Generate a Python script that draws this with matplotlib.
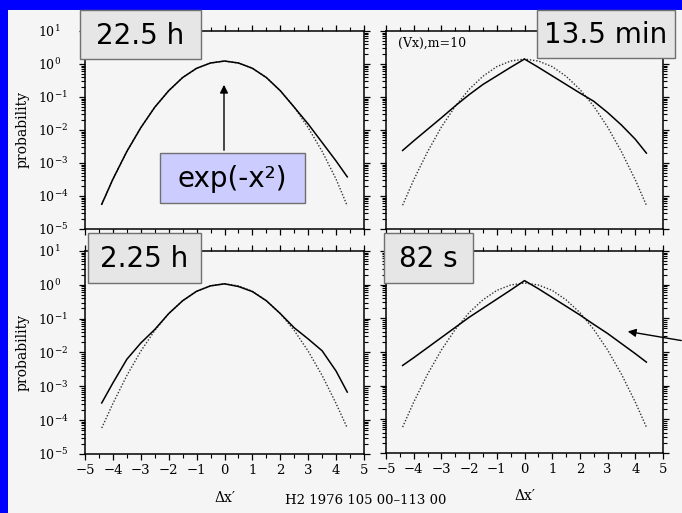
import numpy as np
import matplotlib
matplotlib.use('Agg')
import matplotlib.pyplot as plt
from matplotlib.patches import Rectangle, FancyArrowPatch

plt.rcParams['mathtext.fontset'] = 'dejavuserif'

# values, probability as log10
x_pts = [-4.4, -4, -3.5, -3, -2.5, -2, -1.5, -1, -0.5, 0, 0.5, 1, 1.5, 2, 2.5, 3, 3.5, 4, 4.4]

tl_gauss = [-4.25, -3.49, -2.65, -1.93, -1.31, -0.81, -0.41, -0.13, 0.03, 0.09,
            0.03, -0.13, -0.41, -0.81, -1.31, -1.93, -2.65, -3.49, -4.3]
tl_data = [-4.25, -3.49, -2.65, -1.93, -1.31, -0.81, -0.41, -0.13, 0.03, 0.09,
           0.03, -0.13, -0.41, -0.81, -1.31, -1.82, -2.38, -2.94, -3.42]

tr_gauss = [-4.28, -3.51, -2.66, -1.91, -1.28, -0.77, -0.37, -0.08, 0.09, 0.15,
            0.09, -0.08, -0.37, -0.77, -1.28, -1.91, -2.66, -3.51, -4.28]
tr_data = [-2.62, -2.33, -1.98, -1.63, -1.27, -0.93, -0.62, -0.36, -0.1, 0.15,
           -0.1, -0.36, -0.62, -0.88, -1.13, -1.47, -1.85, -2.28, -2.7]

bl_gauss = [-4.23, -3.51, -2.68, -1.96, -1.35, -0.85, -0.47, -0.19, -0.03, 0.03,
            -0.03, -0.19, -0.47, -0.85, -1.35, -1.96, -2.68, -3.51, -4.23]
bl_data = [-3.49, -2.9, -2.2, -1.72, -1.32, -0.85, -0.47, -0.19, -0.03, 0.03,
           -0.05, -0.2, -0.47, -0.85, -1.27, -1.6, -1.95, -2.55, -3.17]

br_gauss = [-4.23, -3.49, -2.66, -1.94, -1.33, -0.83, -0.45, -0.17, -0.01, 0.05,
            -0.01, -0.17, -0.45, -0.83, -1.33, -1.94, -2.66, -3.49, -4.23]
br_data = [-2.4, -2.17, -1.87, -1.57, -1.27, -0.97, -0.7, -0.43, -0.16, 0.12,
           -0.12, -0.38, -0.64, -0.9, -1.18, -1.45, -1.75, -2.05, -2.3]

xtick_vals = [-5, -4, -3, -2, -1, 0, 1, 2, 3, 4, 5]
xtick_labels = ['\u22125', '\u22124', '\u22123', '\u22122', '\u22121', '0', '1', '2', '3', '4', '5']
ytick_vals = [1e-5, 1e-4, 1e-3, 1e-2, 1e-1, 1e0, 1e1]
ytick_labels = ['$10^{-5}$', '$10^{-4}$', '$10^{-3}$', '$10^{-2}$', '$10^{-1}$', '$10^{0}$', '$10^{1}$']
box_labels = ['22.5 h', '13.5 min', '2.25 h', '82 s']

xminor = [v + 0.5 for v in xtick_vals[:-1]]
yminor = [m * d for d in ytick_vals[:-1] for m in range(2, 10)]

W, H = 682, 513
PANEL = '#f5f5f5'
SERIF = 'DejaVu Serif'

fig = plt.figure(figsize=(W / 100, H / 100), dpi=100)
fig.patch.set_facecolor('#0000ff')
fig.add_artist(Rectangle((8 / W, 0), 1 - 8 / W, 1 - 10 / H, transform=fig.transFigure,
                         facecolor=PANEL, edgecolor='none', zorder=-1))


def px_axes(x0, y0, x1, y1):
    return fig.add_axes([x0 / W, 1 - y1 / H, (x1 - x0) / W, (y1 - y0) / H])


def fx(px):
    return px / W


def fy(py):
    return 1 - py / H


panels = [
    (px_axes(85, 31, 364, 229), tl_gauss, tl_data, True, False),
    (px_axes(386, 31, 663, 229), tr_gauss, tr_data, False, False),
    (px_axes(85, 251, 364, 454), bl_gauss, bl_data, True, True),
    (px_axes(386, 251, 663, 453), br_gauss, br_data, False, True),
]

for ax, gauss, data, show_y, show_x in panels:
    ax.set_facecolor(PANEL)
    ax.plot(x_pts, 10 ** np.array(gauss), color='#333333', lw=1.0, ls=(0, (1, 1.3)))
    ax.plot(x_pts, 10 ** np.array(data), color='black', lw=1.1)
    ax.set_yscale('log')
    ax.set_xlim(-5, 5)
    ax.set_ylim(1e-5, 1e1)
    ax.set_xticks(xtick_vals)
    ax.set_xticks(xminor, minor=True)
    ax.set_yticks(ytick_vals)
    ax.set_yticks(yminor, minor=True)
    ax.set_yticklabels([], minor=True)
    ax.tick_params(which='both', direction='out', top=True, right=True)
    ax.tick_params(which='major', length=4, width=0.9)
    ax.tick_params(which='minor', length=3, width=0.8)
    for sp in ax.spines.values():
        sp.set_linewidth(1.1)
    if show_x:
        ax.set_xticklabels(xtick_labels, family=SERIF, fontsize=9.5)
        ax.set_xlabel('\u0394x\u2032', family=SERIF, fontsize=10)
        ax.xaxis.label.set_va('center')
        ax.xaxis.set_label_coords(0.5, -0.215)
    else:
        ax.tick_params(axis='x', labelbottom=False)
    if show_y:
        ax.set_yticklabels(ytick_labels, fontsize=9)
        ax.tick_params(axis='y', which='major', pad=29.8)
        for lbl in ax.get_yticklabels():
            lbl.set_horizontalalignment('left')
        ax.set_ylabel('probability', family=SERIF, fontsize=10)
        ax.yaxis.set_label_coords(-0.197, 0.5)
    else:
        ax.tick_params(axis='y', labelleft=False)

panels[1][0].text(fx(398), fy(43), '(Vx),m=10', transform=fig.transFigure,
                  ha='left', va='center', family=SERIF, fontsize=9)

fig.text(fx(366), fy(500), 'H2 1976 105 00\u2013113 00', ha='center', va='center',
         family=SERIF, fontsize=9.5)


def label_box(x0, y0, x1, y1, text, fc):
    fig.add_artist(Rectangle((fx(x0), fy(y1)), (x1 - x0) / W, (y1 - y0) / H,
                             transform=fig.transFigure, facecolor=fc,
                             edgecolor='#707070', lw=1.0, zorder=5))
    fig.text(fx((x0 + x1) / 2), fy((y0 + y1) / 2 + 1), text, ha='center', va='center',
             fontsize=20, family='DejaVu Sans', zorder=6)


label_box(80, 10, 201, 59, box_labels[0], '#e6e6e6')
label_box(537, 10, 675, 58, box_labels[1], '#e6e6e6')
label_box(88, 233, 201, 283, box_labels[2], '#e6e6e6')
label_box(384, 233, 473, 283, box_labels[3], '#e6e6e6')
label_box(160, 153, 305, 203, 'exp(-x\u00b2)', '#ccccff')

fig.add_artist(FancyArrowPatch((fx(224), fy(153)), (fx(224), fy(82)),
                               transform=fig.transFigure, arrowstyle='-|>',
                               mutation_scale=12, lw=1.0, color='black', zorder=6))
fig.add_artist(FancyArrowPatch((fx(684), fy(341)), (fx(625), fy(331)),
                               transform=fig.transFigure, arrowstyle='-|>',
                               mutation_scale=12, lw=1.0, color='black', zorder=6))

fig.savefig('out.png', dpi=100, facecolor=fig.get_facecolor())
